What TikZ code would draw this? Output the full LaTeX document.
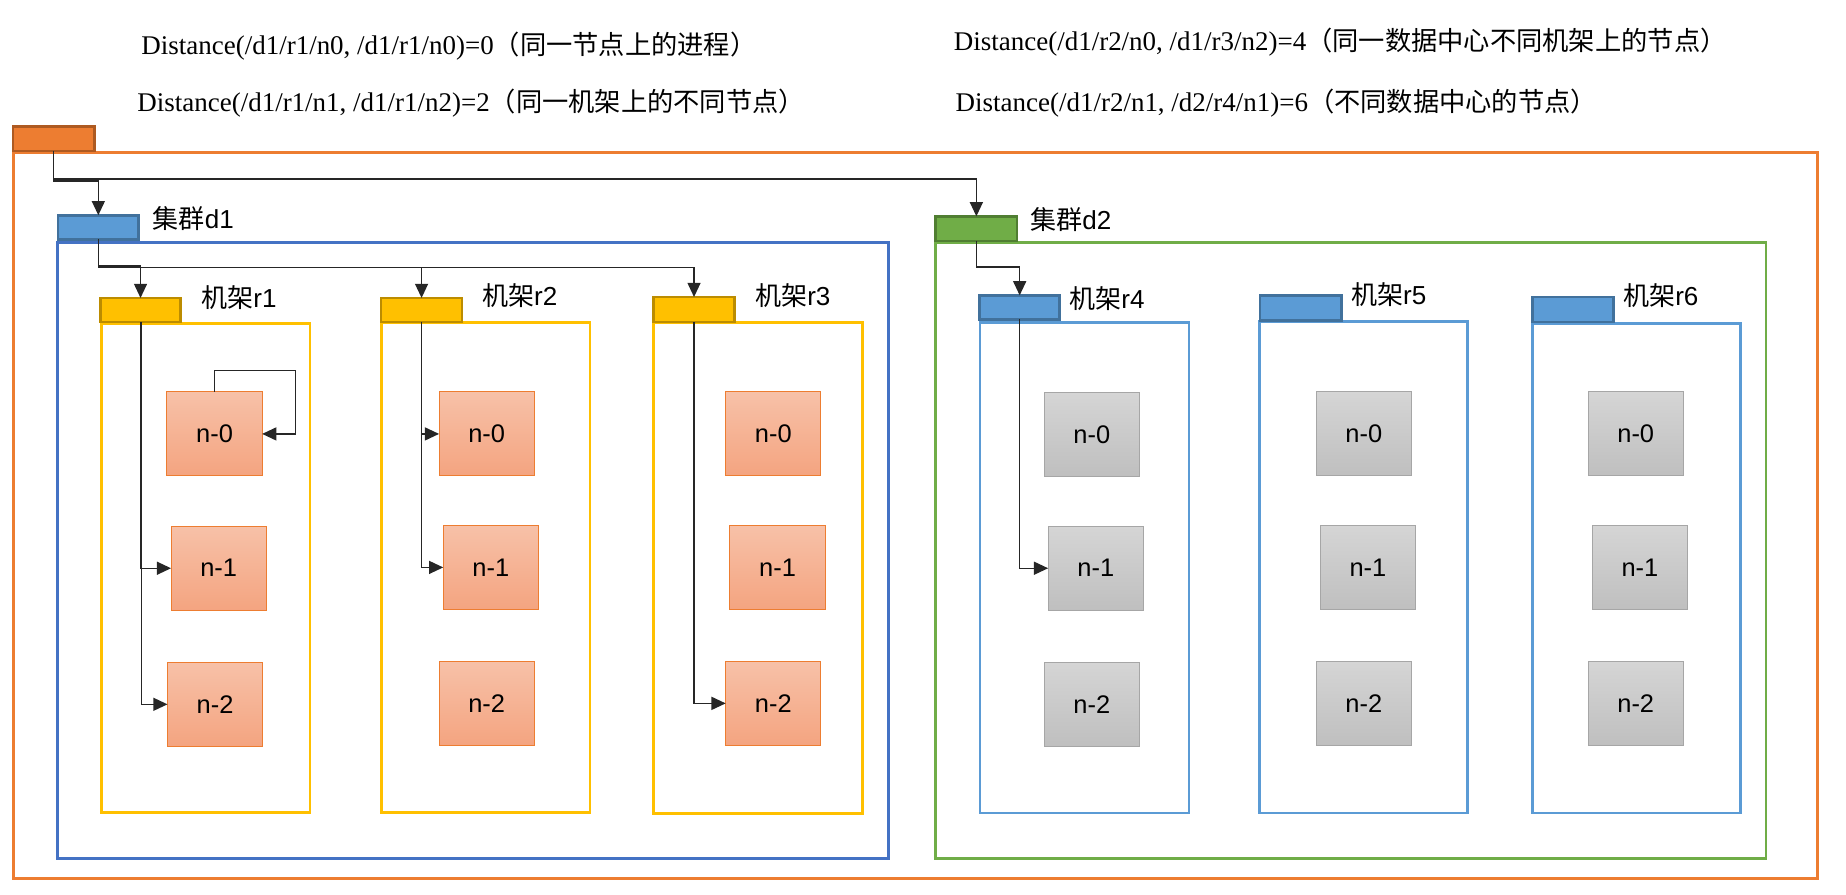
\documentclass[tikz,border=0pt]{standalone}
\usepackage{fontspec}
\setmainfont{Liberation Serif}
\newfontfamily\cjk{Noto Sans CJK SC}
\newfontfamily\arialf{Liberation Sans}
\usetikzlibrary{arrows.meta,fit}
\definecolor{cOrange}{HTML}{ED7D31}
\definecolor{cOrangeD}{HTML}{AE5A21}
\definecolor{cBlueF}{HTML}{4472C4}
\definecolor{cBlue}{HTML}{5B9BD5}
\definecolor{cBlueD}{HTML}{41719C}
\definecolor{cGreen}{HTML}{70AD47}
\definecolor{cGreenD}{HTML}{507E32}
\definecolor{cYellow}{HTML}{FFC000}
\definecolor{cYellowD}{HTML}{BC8C00}
\definecolor{nOrTop}{RGB}{247,193,168}
\definecolor{nOrBot}{RGB}{244,164,128}
\definecolor{nGrTop}{RGB}{213,213,213}
\definecolor{nGrBot}{RGB}{191,191,191}
\definecolor{nGrLine}{RGB}{166,166,166}
\newcommand\cjktop[1]{{\cjk\fontsize{22.2}{28}\selectfont #1}}
\begin{document}
\begin{tikzpicture}[x=1pt,y=-1pt,
  boxframe/.style={draw, inner sep=0pt, outer sep=0pt, line width=2.2pt},
  tabbox/.style={draw, inner sep=0pt, outer sep=0pt, line width=2.3pt},
  nodeor/.style={draw=cOrange, line width=0.8pt, top color=nOrTop, bottom color=nOrBot,
    minimum width=80.5pt, minimum height=71pt, inner sep=0pt, outer sep=0pt,
    font=\arialf\fontsize{21.5}{26}\selectfont},
  nodegr/.style={nodeor, draw=nGrLine, top color=nGrTop, bottom color=nGrBot},
  lab/.style={anchor=west, inner sep=0pt, font=\arialf\fontsize{22}{26}\selectfont},
  toptxt/.style={anchor=west, inner sep=0pt, font=\fontsize{22.8}{28}\selectfont},
  conn/.style={draw=black!85, line width=1.2pt, -{Triangle[length=12pt,width=11pt]}}
]
\useasboundingbox (0,0) rectangle (1560,756.3);

% top texts
\node[toptxt] (t1) at (119.3,39.4) {Distance(/d1/r1/n0, /d1/r1/n0)=0\cjktop{（同一节点上的进程）}};
\node[toptxt] (t2) at (115.9,86.8) {Distance(/d1/r1/n1, /d1/r1/n2)=2\cjktop{（同一机架上的不同节点）}};
\node[toptxt] (t3) at (805.9,35.2) {Distance(/d1/r2/n0, /d1/r3/n2)=4\cjktop{（同一数据中心不同机架上的节点）}};
\node[toptxt] (t4) at (807.4,86.8) {Distance(/d1/r2/n1, /d2/r4/n1)=6\cjktop{（不同数据中心的节点）}};

% frames
\node[boxframe, draw=cOrange, fit={(11.3,128.7)(1536,742.3)}] (dc) {};
\node[boxframe, draw=cBlueF, fit={(48.8,204.8)(751,725.4)}] (d1f) {};
\node[boxframe, draw=cGreen, fit={(790.5,204.8)(1492.3,725.4)}] (d2f) {};
\node[boxframe, draw=cYellow, fit={(86,273.2)(262,686.5)}] (r1f) {};
\node[boxframe, draw=cYellow, fit={(322.3,272.4)(498.6,686.5)}] (r2f) {};
\node[boxframe, draw=cYellow, fit={(552.5,272.4)(728.8,687.3)}] (r3f) {};
\node[boxframe, draw=cBlue, fit={(828.3,272.4)(1004.8,687)}] (r4f) {};
\node[boxframe, draw=cBlue, fit={(1064.6,271.8)(1240.2,687)}] (r5f) {};
\node[boxframe, draw=cBlue, fit={(1295,273.2)(1471,687)}] (r6f) {};

% nodes
\node[nodeor] (r1n0) at (181.3,366.7) {n-0};
\node[nodeor] (r1n1) at (184.8,480.2) {n-1};
\node[nodeor] (r1n2) at (181.8,595.2) {n-2};
\node[nodeor] (r2n0) at (411.3,366.7) {n-0};
\node[nodeor] (r2n1) at (414.8,479.5) {n-1};
\node[nodeor] (r2n2) at (411.3,594.4) {n-2};
\node[nodeor] (r3n0) at (653.5,366.7) {n-0};
\node[nodeor] (r3n1) at (657.1,479.5) {n-1};
\node[nodeor] (r3n2) at (653.5,594.4) {n-2};
\node[nodegr] (r4n0) at (922.7,367.2) {n-0};
\node[nodegr] (r4n1) at (926,480.2) {n-1};
\node[nodegr] (r4n2) at (922.7,595.2) {n-2};
\node[nodegr] (r5n0) at (1152.5,366.7) {n-0};
\node[nodegr] (r5n1) at (1156,479.5) {n-1};
\node[nodegr] (r5n2) at (1152.5,594.4) {n-2};
\node[nodegr] (r6n0) at (1382.3,366.7) {n-0};
\node[nodegr] (r6n1) at (1385.8,479.5) {n-1};
\node[nodegr] (r6n2) at (1382.3,594.4) {n-2};

% tabs
\node[tabbox, draw=cOrangeD, fill=cOrange, fit={(11,106.7)(79.8,127.6)}] (otab) {};
\node[tabbox, draw=cBlueD, fill=cBlue, fit={(49,181.9)(117.2,202.3)}] (d1tab) {};
\node[tabbox, draw=cGreenD, fill=cGreen, fit={(790.7,182.8)(859.5,203.7)}] (d2tab) {};
\node[tabbox, draw=cYellowD, fill=cYellow, fit={(84.8,251.8)(152.7,272.1)}] (r1tab) {};
\node[tabbox, draw=cYellowD, fill=cYellow, fit={(322,251.8)(390.5,272.1)}] (r2tab) {};
\node[tabbox, draw=cYellowD, fill=cYellow, fit={(552.1,251)(620.9,272.1)}] (r3tab) {};
\node[tabbox, draw=cBlueD, fill=cBlue, fit={(827.9,249.6)(895.5,269.9)}] (r4tab) {};
\node[tabbox, draw=cBlueD, fill=cBlue, fit={(1064.7,249.6)(1133.4,270.7)}] (r5tab) {};
\node[tabbox, draw=cBlueD, fill=cBlue, fit={(1294.9,251)(1363.4,272.1)}] (r6tab) {};

% labels
\node[lab] (ld1) at (129,184.5) {{\cjk 集群}d1};
\node[lab] (ld2) at (870.5,185.5) {{\cjk 集群}d2};
\node[lab] (lr1) at (170,251.4) {{\cjk 机架}r1};
\node[lab] (lr2) at (407.2,249.6) {{\cjk 机架}r2};
\node[lab] (lr3) at (638,249.6) {{\cjk 机架}r3};
\node[lab] (lr4) at (903.5,252.4) {{\cjk 机架}r4};
\node[lab] (lr5) at (1141.5,248.7) {{\cjk 机架}r5};
\node[lab] (lr6) at (1371.5,249.6) {{\cjk 机架}r6};

% connectors
\draw[conn] (otab.south) -- ++(0,25.5) -| (d1tab.north);
\draw[conn] (otab.south) -- ++(0,23.5) -| (d2tab.north);
\draw[conn] (d1tab.south) -- ++(0,22.6) -| (r1tab.north);
\draw[conn] (d1tab.south) -- ++(0,23.8) -| (r2tab.north);
\draw[conn] (d1tab.south) -- ++(0,23.8) -| (r3tab.north);
\draw[conn] (d2tab.south) -- ++(0,22) -| (r4tab.north);
\draw[conn] (r1tab.south) |- (r1n1.west);
\draw[conn] ([xshift=1pt]r1tab.south) |- (r1n2.west);
\draw[conn] (r1n0.north) -- ++(0,-18) -| ([xshift=28.4pt]r1n0.east) -- (r1n0.east);
\draw[conn] (r2tab.south) |- (r2n0.west);
\draw[conn] (r2tab.south) |- (r2n1.west);
\draw[conn] (r3tab.south) |- (r3n2.west);
\draw[conn] (r4tab.south) |- (r4n1.west);
\end{tikzpicture}
\end{document}
